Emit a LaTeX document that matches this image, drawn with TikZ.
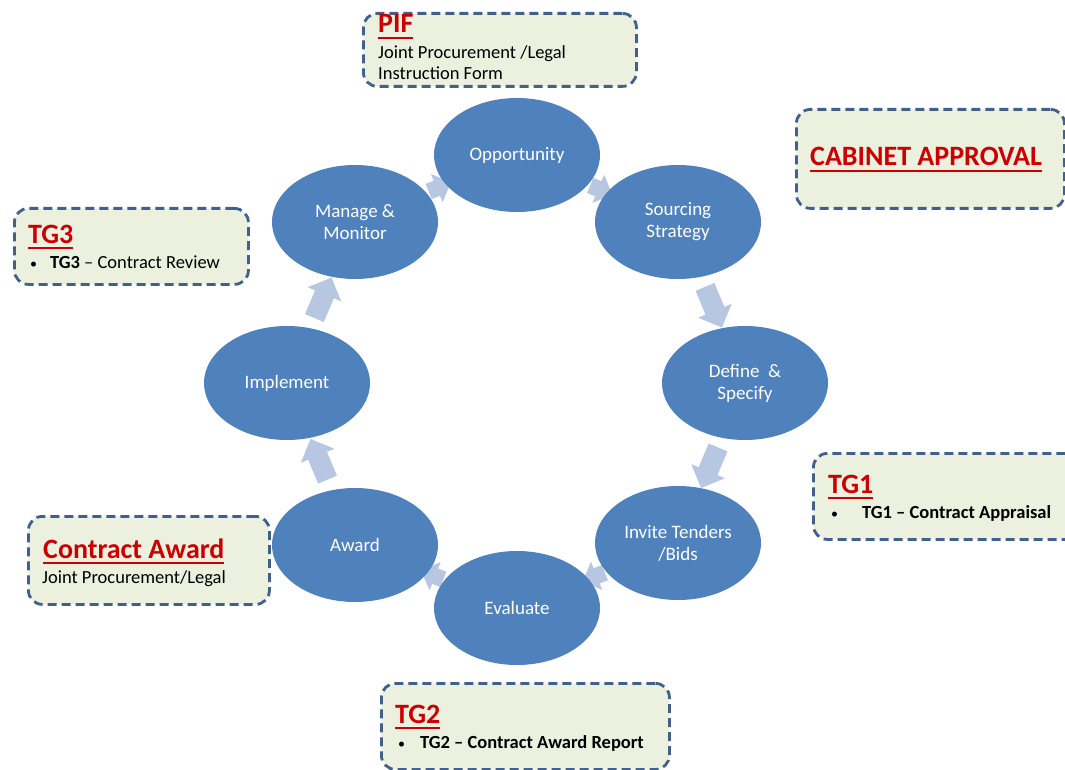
\documentclass[tikz,border=0pt]{standalone}
\usepackage{fontspec}
\setmainfont{Carlito}
\newsavebox{\myulbox}
\newcommand{\myul}[1]{\sbox{\myulbox}{#1}\rlap{\vrule width\wd\myulbox height -3.6pt depth 6.4pt}\usebox{\myulbox}}
\newcommand{\smallbullet}{{\fontsize{14}{14}\selectfont •}}
\usetikzlibrary{shapes.geometric,shapes.arrows,backgrounds}
\definecolor{ellblue}{HTML}{4F81BD}
\definecolor{arrblue}{HTML}{B7C7E2}
\definecolor{boxfill}{HTML}{EBF1DE}
\definecolor{boxline}{HTML}{41608E}
\definecolor{titlered}{HTML}{CC0000}
\begin{document}
\begin{tikzpicture}[x=1pt,y=-1pt,
  stage/.style={ellipse, fill=ellblue, minimum width=166pt, minimum height=114pt, inner sep=0pt, text=white, font=\fontsize{19}{22}\selectfont, align=center},
  notebox/.style={draw=boxline, fill=boxfill, line width=2.8pt, dash pattern=on 9pt off 5pt, rounded corners=14pt, anchor=north west, inner sep=0pt},
  titletext/.style={anchor=base west, inner sep=0pt, text=titlered, font=\fontsize{28}{30}\selectfont\bfseries},
  bodytext/.style={anchor=base west, inner sep=0pt, text=black, font=\fontsize{18.5}{22}\selectfont, align=left},
  bigarrow/.style={single arrow, fill=arrblue, draw=none, inner xsep=0pt, inner ysep=10pt, single arrow head extend=8pt, minimum height=44pt, sloped, allow upside down},
  smallarrow/.style={single arrow, fill=arrblue, draw=none, inner xsep=0pt, inner ysep=8pt, single arrow head extend=7pt, minimum height=24pt, sloped, allow upside down}
]
\useasboundingbox (0,0) rectangle (1065,770);
\clip (0,0) rectangle (1065,770);

% stages
\node[stage] (opp) at (517,155) {Opportunity};
\node[stage] (src) at (678,222) {Sourcing\\Strategy};
\node[stage] (def) at (745,383) {Define\ \ \&\\Specify};
\node[stage] (inv) at (678,543) {Invite Tenders\\/Bids};
\node[stage] (eva) at (517,608) {Evaluate};
\node[stage] (awd) at (355,545) {Award};
\node[stage] (imp) at (287,383) {Implement};
\node[stage] (man) at (355,222) {Manage \&\\Monitor};

% arrows
\begin{scope}[on background layer]
\fill[white] (0,0) rectangle (1065,770);
\path (opp.center) -- node[smallarrow] (a1) {} (src.center);
\path (src.center) -- node[bigarrow] (a2) {} (def.center);
\path (def.center) -- node[bigarrow] (a3) {} (inv.center);
\path (inv.center) -- node[smallarrow] (a4) {} (eva.center);
\path (eva.center) -- node[smallarrow] (a5) {} (awd.center);
\path (awd.center) -- node[bigarrow] (a6) {} (imp.center);
\path (imp.center) -- node[bigarrow] (a7) {} (man.center);
\path (man.center) -- node[smallarrow] (a8) {} (opp.center);
\end{scope}

% PIF
\node[notebox, minimum width=273pt, minimum height=73pt] (pifbox) at (362,12) {};
\node[titletext] (piftitle) at (378,33) {\myul{PIF}};
\node[bodytext] (pifbody1) at (378,59) {Joint Procurement /Legal};
\node[bodytext] (pifbody2) at (378,80) {Instruction Form};

% Cabinet approval
\node[notebox, minimum width=268pt, minimum height=99pt] (cabbox) at (795,108) {};
\node[titletext] (cabtitle) at (810,166) {\myul{CABINET APPROVAL}};

% TG3
\node[notebox, minimum width=234pt, minimum height=76pt] (tg3box) at (13,207) {};
\node[titletext] (tg3title) at (28,243) {\myul{TG3}};
\node[bodytext] (tg3body) at (30,268) {\makebox[20pt][l]{\smallbullet}\textbf{TG3} – Contract Review};

% TG1
\node[notebox, minimum width=266pt, minimum height=86pt] (tg1box) at (812,452) {};
\node[titletext] (tg1title) at (828,493) {\myul{TG1}};
\node[bodytext] (tg1body) at (831,518) {\makebox[31pt][l]{\smallbullet}\textbf{TG1 – Contract Appraisal}};

% Contract award
\node[notebox, minimum width=241pt, minimum height=88pt] (cabox) at (27,515) {};
\node[titletext] (catitle) at (43,558) {\myul{Contract Award}};
\node[bodytext] (cabody) at (42,583) {Joint Procurement/Legal};

% TG2
\node[notebox, minimum width=288pt, minimum height=86pt] (tg2box) at (380,682) {};
\node[titletext] (tg2title) at (395,723) {\myul{TG2}};
\node[bodytext] (tg2body) at (398,748) {\makebox[22pt][l]{\smallbullet}\textbf{TG2 – Contract Award Report}};
\end{tikzpicture}
\end{document}
